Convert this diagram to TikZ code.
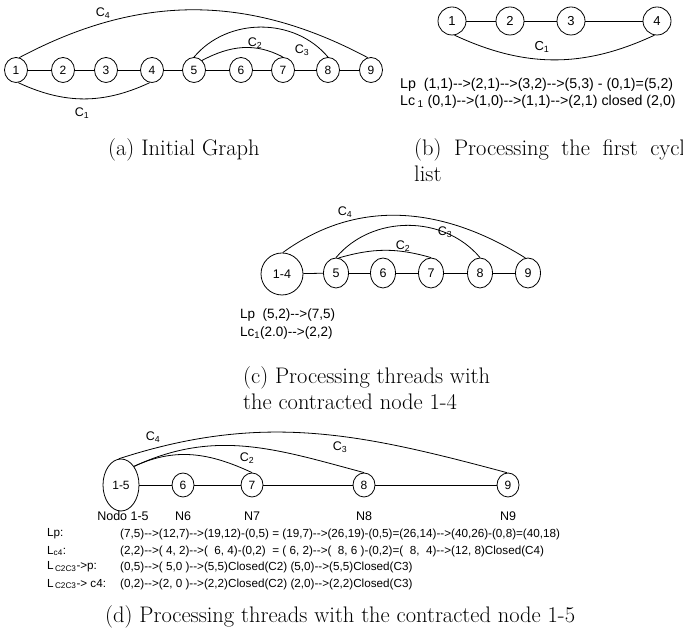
\documentclass[tikz,border=0pt]{standalone}
\usepackage{fontspec}
\newfontfamily\hv{Liberation Sans}
\usetikzlibrary{positioning,shapes.geometric}
\tikzset{
  grnode/.style={draw,ellipse,inner sep=0pt,line width=0.8pt,font=\hv\fontsize{12}{14}\selectfont},
  gredge/.style={line width=0.8pt},
  grlabel/.style={inner sep=1pt,font=\hv\fontsize{12.5}{14}\selectfont},
  grlist/.style={anchor=west,inner sep=0pt,font=\hv\fontsize{#1}{16}\selectfont},
  grlist/.default=11.7,
  grcap/.style={anchor=west,inner sep=0pt,align=left,font=\fontsize{22.5}{26}\selectfont},
}
\newcommand{\csub}[1]{C\textsubscript{#1}}

\begin{document}
\begin{tikzpicture}[x=1pt,y=1pt]
\useasboundingbox (0,0) rectangle (683,634);
\clip (0,0) rectangle (683,634);

% (a) initial graph
\foreach \i/\x in {1/16,2/63,3/106,4/152,5/194,6/241,7/283,8/328,9/371}
  \node[grnode,minimum width=23pt,minimum height=25pt] (a\i) at (\x,564) {\i};
\foreach \i [count=\j from 2] in {1,...,8}
  \draw[gredge] (a\i) -- (a\j);
\draw[gredge] (a1.75) to[out=28,in=152] (a9.105);
\draw[gredge] (a1.-80) to[out=-25,in=-155] (a4.-100);
\draw[gredge] (a5.90) to[out=50,in=130] (a8.90);
\draw[gredge] (a5.50) to[out=28,in=152] (a7.90);
\node[grlabel] (a-c4) at (103,621) {\csub{4}};
\node[grlabel] (a-c1) at (82,521) {\csub{1}};
\node[grlabel] (a-c3) at (302,584) {\csub{3}};
\node[grlabel] (a-c2) at (255,591) {\csub{2}};
\node[grcap] (capa) at (108,484) {(a) Initial Graph};

% (b) first cycle
\foreach \i/\x in {1/452,2/510,3/571,4/657}
  \node[grnode,minimum width=28pt,minimum height=28pt,font=\hv\fontsize{13}{15}\selectfont] (b\i) at (\x,613) {\i};
\foreach \i [count=\j from 2] in {1,...,3}
  \draw[gredge] (b\i) -- (b\j);
\draw[gredge] (b1.-80) to[out=-25,in=-155] (b4.-100);
\node[grlabel,font=\hv\fontsize{13}{15}\selectfont] (b-c1) at (542,587) {\csub{1}};
\node[grlist=14.2] (b-lp) at (400,549) {Lp\ \ (1,1)-->(2,1)-->(3,2)-->(5,3) - (0,1)=(5,2)};
\node[grlist=14.2] (b-lc) at (400,532) {Lc\,\textsubscript{1} (0,1)-->(1,0)-->(1,1)-->(2,1) closed\ (2,0)};
\node[grcap,anchor=north west] (capb) at (414,496) {\makebox[280pt][s]{(b) Processing the first cycle}\\list};

% (c) contracted node 1-4
\node[grnode,minimum size=42pt,font=\hv\fontsize{12.5}{15}\selectfont] (c14) at (282,360) {1-4};
\foreach \i/\x in {5/336,6/383,7/431,8/480,9/528}
  \node[grnode,minimum width=25pt,minimum height=30pt,font=\hv\fontsize{12.5}{15}\selectfont] (c\i) at (\x,361) {\i};
\draw[gredge] (c14) -- (c5);
\foreach \i [count=\j from 6] in {5,...,8}
  \draw[gredge] (c\i) -- (c\j);
\draw[gredge] (c14.88) to[out=36,in=148] (c9.100);
\draw[gredge] (c5.90) to[out=50,in=130] (c8.90);
\draw[gredge] (c5.80) to[out=16,in=164] (c7.90);
\node[grlabel] (c-c4) at (345,422) {\csub{4}};
\node[grlabel] (c-c3) at (445,402) {\csub{3}};
\node[grlabel] (c-c2) at (403,388) {\csub{2}};
\node[grlist=13.5] (c-lp) at (240,319) {Lp\ \ (5,2)-->(7,5)};
\node[grlist=13.5] (c-lc) at (240,301) {Lc\textsubscript{1}(2.0)-->(2,2)};
\node[grcap,anchor=north west] (capc) at (243,268) {(c) Processing threads with\\the contracted node 1-4};

% (d) contracted node 1-5
\node[grnode,minimum width=36pt,minimum height=52pt] (d15) at (121,149) {1-5};
\foreach \i/\x in {6/183,7/252,8/364,9/508}
  \node[grnode,minimum width=22pt,minimum height=24pt] (d\i) at (\x,149) {\i};
\draw[gredge] (d15) -- (d6);
\foreach \i [count=\j from 7] in {6,...,8}
  \draw[gredge] (d\i) -- (d\j);
\draw[gredge] (d15.95) to[out=18,in=165] (d9.95);
\draw[gredge] (d15.55) to[out=25,in=165] (d8.90);
\draw[gredge] (d15.55) to[out=25,in=155] (d7.90);
\node[grlabel] (d-c4) at (153,197) {\csub{4}};
\node[grlabel] (d-c3) at (340,187) {\csub{3}};
\node[grlabel] (d-c2) at (247,176) {\csub{2}};
\node[grlabel] (n15) at (123,118) {Nodo 1-5};
\node[grlabel] (n6) at (d6 |- n15) {N6};
\node[grlabel] (n7) at (d7 |- n15) {N7};
\node[grlabel] (n8) at (d8 |- n15) {N8};
\node[grlabel] (n9) at (d9 |- n15) {N9};
\node[grlist] (lp) at (47,100) {Lp:};
\node[grlist] (lc4) at (47,83) {L\textsubscript{c4}:};
\node[grlist] (lcp) at (47,67) {L\textsubscript{\,C2C3}->p:};
\node[grlist] (lcc) at (47,50) {L\textsubscript{\,C2C3}-> c4:};
\node[grlist] (vp) at (120,0 |- lp) {(7,5)-->(12,7)-->(19,12)-(0,5) = (19,7)-->(26,19)-(0,5)=(26,14)-->(40,26)-(0,8)=(40,18)};
\node[grlist] (vc4) at (120,0 |- lc4) {(2,2)-->( 4, 2)-->(\ \ 6, 4)-(0,2)\ \ = ( 6, 2)-->(\ \ 8, 6 )-(0,2)=(\ \ 8,\ \ 4)-->(12, 8)Closed(C4)};
\node[grlist] (vcp) at (120,0 |- lcp) {(0,5)-->( 5,0 )-->(5,5)Closed(C2) (5,0)-->(5,5)Closed(C3)};
\node[grlist] (vcc) at (120,0 |- lcc) {(0,2)-->(2, 0 )-->(2,2)Closed(C2) (2,0)-->(2,2)Closed(C3)};
\node[grcap] (capd) at (105,17) {(d) Processing threads with the contracted node 1-5};
\end{tikzpicture}
\end{document}
